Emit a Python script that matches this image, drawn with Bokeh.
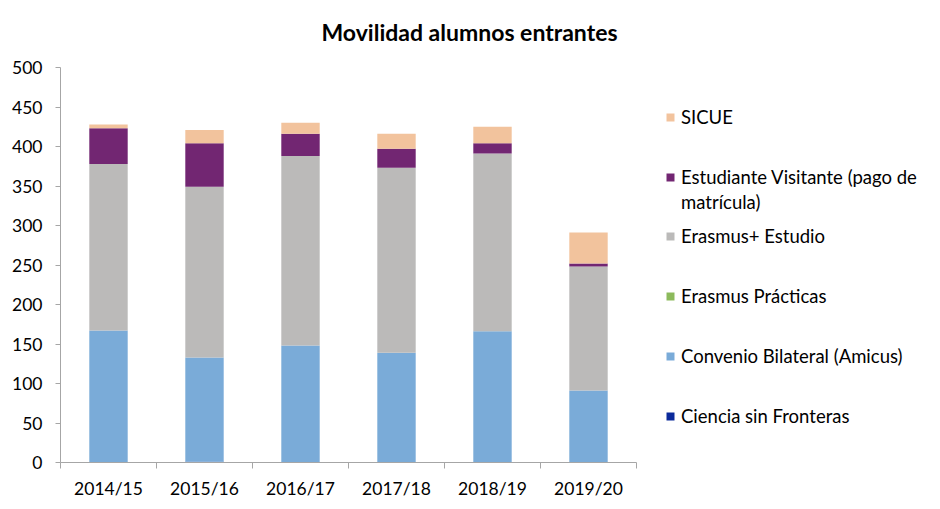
from bokeh.plotting import figure
from bokeh.models import FixedTicker, Range1d, Legend, LegendItem, ColumnDataSource, Label
from bokeh.embed import file_html
from bokeh.resources import INLINE

# ---- data ----
years = ["2014/15", "2015/16", "2016/17", "2017/18", "2018/19", "2019/20"]
ciencia = [0, 1, 0, 0, 0, 0]
convenio = [167, 132, 148, 139, 166, 91]
practicas = [0, 0, 0, 0, 0, 0]
estudio = [211, 216, 240, 234, 225, 157]
visitante = [45, 55, 28, 24, 13, 4]
sicue = [5, 17, 14, 19, 21, 39]

series_keys = ["ciencia", "convenio", "practicas", "estudio", "visitante", "sicue"]
series_labels = ["Ciencia sin Fronteras", "Convenio Bilateral (Amicus)", "Erasmus Prácticas",
                 "Erasmus+ Estudio", "Estudiante Visitante (pago de", "SICUE"]
label_continuation = "matrícula)"
colors = ["#0B2A9B", "#7AABD8", "#8CBA5C", "#BBBAB9", "#722672", "#F2C39D"]
y_ticks = list(range(0, 501, 50))
y_max = 500
title_text = "Movilidad alumnos entrantes"

FONT = "Lato"
TXT = "#000000"
AXC = "#A6A6A6"

# layout (pixels)
W, H = 932, 501
FL, FR, FT, FB = 60, 924, 7, 462      # frame edges on the page
AX_RIGHT, AX_TOP = 636, 67             # where the axes end

n = len(years)
xpos = [i + 0.5 for i in range(n)]
x_end = n * (FR - FL) / (AX_RIGHT - FL)
y_end = y_max * (FB - FT) / (FB - AX_TOP)

source = ColumnDataSource(dict(x=xpos, ciencia=ciencia, convenio=convenio, practicas=practicas,
                               estudio=estudio, visitante=visitante, sicue=sicue))

p = figure(width=W, height=H, x_range=Range1d(0, x_end), y_range=Range1d(0, y_end),
           output_backend="svg", toolbar_location=None,
           min_border_left=FL, min_border_right=W - FR, min_border_top=FT, min_border_bottom=H - FB)
p.outline_line_color = None
p.grid.grid_line_color = None
p.background_fill_color = "white"
p.border_fill_color = "white"

rends = p.vbar_stack(series_keys, x="x", width=0.4, color=colors, line_color=None, source=source)

# y axis
ya = p.yaxis[0]
ya.bounds = (0, y_max)
ya.ticker = FixedTicker(ticks=y_ticks)
ya.axis_line_color = AXC
ya.major_tick_line_color = AXC
ya.major_tick_out = 5
ya.major_tick_in = 0
ya.minor_tick_line_color = None
ya.major_label_standoff = 13
ya.major_label_text_font = FONT
ya.major_label_text_font_size = "17.5px"
ya.major_label_text_color = TXT

# x axis
xa = p.xaxis[0]
xa.bounds = (0, n)
xa.ticker = FixedTicker(ticks=xpos, minor_ticks=list(range(n + 1)))
xa.major_label_overrides = {x: y for x, y in zip(xpos, years)}
xa.axis_line_color = AXC
xa.major_tick_line_color = None
xa.minor_tick_line_color = AXC
xa.minor_tick_out = 6
xa.minor_tick_in = 0
xa.major_label_standoff = 9
xa.major_label_text_font = FONT
xa.major_label_text_font_size = "17.5px"
xa.major_label_text_color = TXT

# title
p.add_layout(Label(x=469 - FL, y=FB - 31, x_units="screen", y_units="screen", text=title_text,
                   text_align="center", text_baseline="middle", text_font=FONT,
                   text_font_style="bold", text_font_size="23px", text_color=TXT))

# invisible helper renderer for second label line
dummy = p.vbar(x=[0.5], top=[0], width=0.01, fill_alpha=0, line_alpha=0)


def mk_legend(items, loc):
    lg = Legend(items=items, location=loc, orientation="vertical", padding=0, margin=0,
                spacing=38, label_height=20, glyph_width=10, glyph_height=10, label_standoff=6,
                border_line_color=None, background_fill_alpha=0,
                label_text_font=FONT, label_text_font_size="18.5px", label_text_color=TXT)
    return lg


LX = 665 - FL
lg1 = mk_legend([LegendItem(label=series_labels[5], renderers=[rends[5]]),
                 LegendItem(label=series_labels[4], renderers=[rends[4]])], (LX, FB - 188))
lg2 = mk_legend([LegendItem(label=label_continuation, renderers=[dummy])], (LX, FB - 213))
lg3 = mk_legend([LegendItem(label=series_labels[i], renderers=[rends[i]]) for i in [3, 2, 1, 0]],
                (LX, FB - 427))
for lg in (lg1, lg2, lg3):
    p.add_layout(lg, "center")

open("out.html", "w").write(file_html(p, INLINE))
